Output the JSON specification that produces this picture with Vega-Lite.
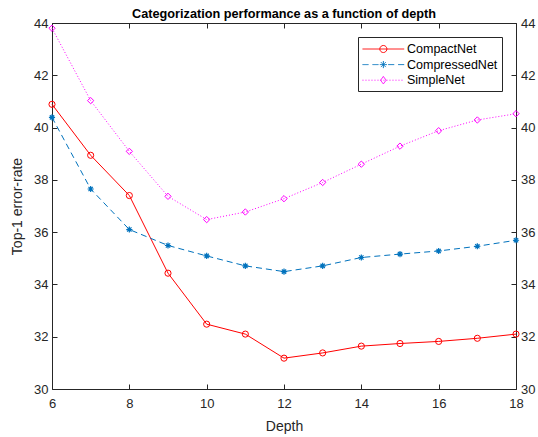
{
  "$schema": "https://vega.github.io/schema/vega-lite/v6.json",
  "width": 464,
  "height": 366,
  "autosize": {"type": "none"},
  "padding": {"left": 52, "top": 23, "right": 22, "bottom": 48},
  "background": "white",
  "title": {
    "text": "Categorization performance as a function of depth",
    "font": "Liberation Sans",
    "fontSize": 12.7,
    "fontWeight": "bold",
    "color": "black",
    "anchor": "middle",
    "offset": -4
  },
  "config": {
    "view": {"stroke": null},
    "axis": {
      "domainColor": "#262626",
      "tickColor": "#262626",
      "labelColor": "#262626",
      "titleColor": "#262626",
      "labelFont": "Liberation Sans",
      "titleFont": "Liberation Sans",
      "labelFontSize": 13,
      "titleFontSize": 14,
      "titleFontWeight": "normal",
      "grid": false,
      "tickSize": -5,
      "domainWidth": 1,
      "tickWidth": 1,
      "labelFlush": false
    }
  },
  "data": {
    "values": [
      {"depth": 6, "net": "CompactNet", "err": 40.89},
      {"depth": 7, "net": "CompactNet", "err": 38.94},
      {"depth": 8, "net": "CompactNet", "err": 37.40},
      {"depth": 9, "net": "CompactNet", "err": 34.43},
      {"depth": 10, "net": "CompactNet", "err": 32.48},
      {"depth": 11, "net": "CompactNet", "err": 32.10},
      {"depth": 12, "net": "CompactNet", "err": 31.18},
      {"depth": 13, "net": "CompactNet", "err": 31.38},
      {"depth": 14, "net": "CompactNet", "err": 31.64},
      {"depth": 15, "net": "CompactNet", "err": 31.74},
      {"depth": 16, "net": "CompactNet", "err": 31.82},
      {"depth": 17, "net": "CompactNet", "err": 31.94},
      {"depth": 18, "net": "CompactNet", "err": 32.10},
      {"depth": 6, "net": "CompressedNet", "err": 40.39},
      {"depth": 7, "net": "CompressedNet", "err": 37.65},
      {"depth": 8, "net": "CompressedNet", "err": 36.10},
      {"depth": 9, "net": "CompressedNet", "err": 35.49},
      {"depth": 10, "net": "CompressedNet", "err": 35.09},
      {"depth": 11, "net": "CompressedNet", "err": 34.71},
      {"depth": 12, "net": "CompressedNet", "err": 34.49},
      {"depth": 13, "net": "CompressedNet", "err": 34.71},
      {"depth": 14, "net": "CompressedNet", "err": 35.03},
      {"depth": 15, "net": "CompressedNet", "err": 35.16},
      {"depth": 16, "net": "CompressedNet", "err": 35.28},
      {"depth": 17, "net": "CompressedNet", "err": 35.46},
      {"depth": 18, "net": "CompressedNet", "err": 35.69},
      {"depth": 6, "net": "SimpleNet", "err": 43.80},
      {"depth": 7, "net": "SimpleNet", "err": 41.03},
      {"depth": 8, "net": "SimpleNet", "err": 39.09},
      {"depth": 9, "net": "SimpleNet", "err": 37.37},
      {"depth": 10, "net": "SimpleNet", "err": 36.48},
      {"depth": 11, "net": "SimpleNet", "err": 36.77},
      {"depth": 12, "net": "SimpleNet", "err": 37.28},
      {"depth": 13, "net": "SimpleNet", "err": 37.90},
      {"depth": 14, "net": "SimpleNet", "err": 38.60},
      {"depth": 15, "net": "SimpleNet", "err": 39.29},
      {"depth": 16, "net": "SimpleNet", "err": 39.88},
      {"depth": 17, "net": "SimpleNet", "err": 40.29},
      {"depth": 18, "net": "SimpleNet", "err": 40.53}
    ]
  },
  "resolve": {"scale": {"x": "independent", "y": "independent"}},
  "layer": [
    {
      "encoding": {
        "x": {
          "field": "depth", "type": "quantitative",
          "scale": {"domain": [6, 18], "nice": false, "zero": false},
          "axis": {"orient": "bottom", "values": [6, 8, 10, 12, 14, 16, 18], "title": "Depth", "labelPadding": 13.5, "titlePadding": 9}
        },
        "y": {
          "field": "err", "type": "quantitative",
          "scale": {"domain": [30, 44], "nice": false, "zero": false},
          "axis": {"orient": "left", "values": [30, 32, 34, 36, 38, 40, 42, 44], "title": "Top-1 error-rate", "labelPadding": 9, "titlePadding": 9}
        },
        "color": {
          "field": "net", "type": "nominal",
          "scale": {"domain": ["CompactNet", "CompressedNet", "SimpleNet"], "range": ["#ff0000", "#0072bd", "#ff00ff"]},
          "legend": {
            "orient": "top-right",
            "offset": 14,
            "title": null,
            "labelFont": "Liberation Sans",
            "labelFontSize": 12.5,
            "labelColor": "black",
            "symbolSize": 225,
            "symbolStrokeWidth": 1,
            "symbolFillColor": "transparent",
            "symbolType": "circle",
            "rowPadding": 0.6,
            "padding": 4,
            "labelOffset": 29,
            "strokeColor": "#262626",
            "fillColor": "white",
            "encode": {
              "symbols": {
                "update": {
                  "shape": [
                    {"test": "datum.value === 'CompactNet'", "value": "M-1,0H4.56M2.25,0A0.47,0.47 0 1,1 1.31,0A0.47,0.47 0 1,1 2.25,0"},
                    {"test": "datum.value === 'CompressedNet'", "value": "M-1,0H-0.2M0.33,0H1.13M2.43,0H3.23M3.76,0H4.56M1.31,0H2.25M1.78,-0.47V0.47M1.45,-0.33L2.11,0.33M1.45,0.33L2.11,-0.33"},
                    {"value": "M-1,0h0.13M-0.6,0h0.13M-0.2,0h0.13M0.2,0h0.13M0.6,0h0.13M1,0h0.13M1.4,0h0.13M1.8,0h0.13M2.2,0h0.13M2.6,0h0.13M3,0h0.13M3.4,0h0.13M3.8,0h0.13M4.2,0h0.13M1.78,-0.5L2.15,0L1.78,0.5L1.41,0Z"}
                  ],
                  "fill": {"value": "transparent"},
                  "strokeDash": {"value": [1, 0]},
                  "strokeWidth": {"value": 1},
                  "opacity": {"value": 1}
                }
              }
            }
          }
        }
      },
      "layer": [
        {
          "transform": [{"filter": "datum.net === 'CompactNet'"}],
          "mark": {"type": "line", "strokeWidth": 1}
        },
        {
          "transform": [{"filter": "datum.net === 'CompressedNet'"}],
          "mark": {"type": "line", "strokeWidth": 1, "strokeDash": [6, 4]}
        },
        {
          "transform": [{"filter": "datum.net === 'SimpleNet'"}],
          "mark": {"type": "line", "strokeWidth": 1, "strokeDash": [1, 2]}
        }
      ]
    },
    {
      "encoding": {
        "x": {
          "field": "depth", "type": "quantitative",
          "scale": {"domain": [6, 18], "nice": false, "zero": false},
          "axis": {"orient": "top", "values": [6, 8, 10, 12, 14, 16, 18], "labels": false, "title": null}
        },
        "y": {
          "field": "err", "type": "quantitative",
          "scale": {"domain": [30, 44], "nice": false, "zero": false},
          "axis": {"orient": "right", "values": [30, 32, 34, 36, 38, 40, 42, 44], "title": null, "labelPadding": 9.5}
        }
      },
      "layer": [
        {
          "transform": [{"filter": "datum.net === 'CompactNet'"}],
          "mark": {"type": "point", "filled": false, "shape": "circle", "color": "#ff0000", "size": 38, "strokeWidth": 1, "opacity": 1}
        },
        {
          "transform": [{"filter": "datum.net === 'CompressedNet'"}],
          "mark": {"type": "point", "filled": false, "shape": "M-1,0H1M0,-1V1M-0.7,-0.7L0.7,0.7M-0.7,0.7L0.7,-0.7", "color": "#0072bd", "size": 38, "strokeWidth": 1.2, "opacity": 1}
        },
        {
          "transform": [{"filter": "datum.net === 'SimpleNet'"}],
          "mark": {"type": "point", "filled": false, "shape": "diamond", "color": "#ff00ff", "size": 40, "strokeWidth": 1, "opacity": 1}
        }
      ]
    }
  ]
}
